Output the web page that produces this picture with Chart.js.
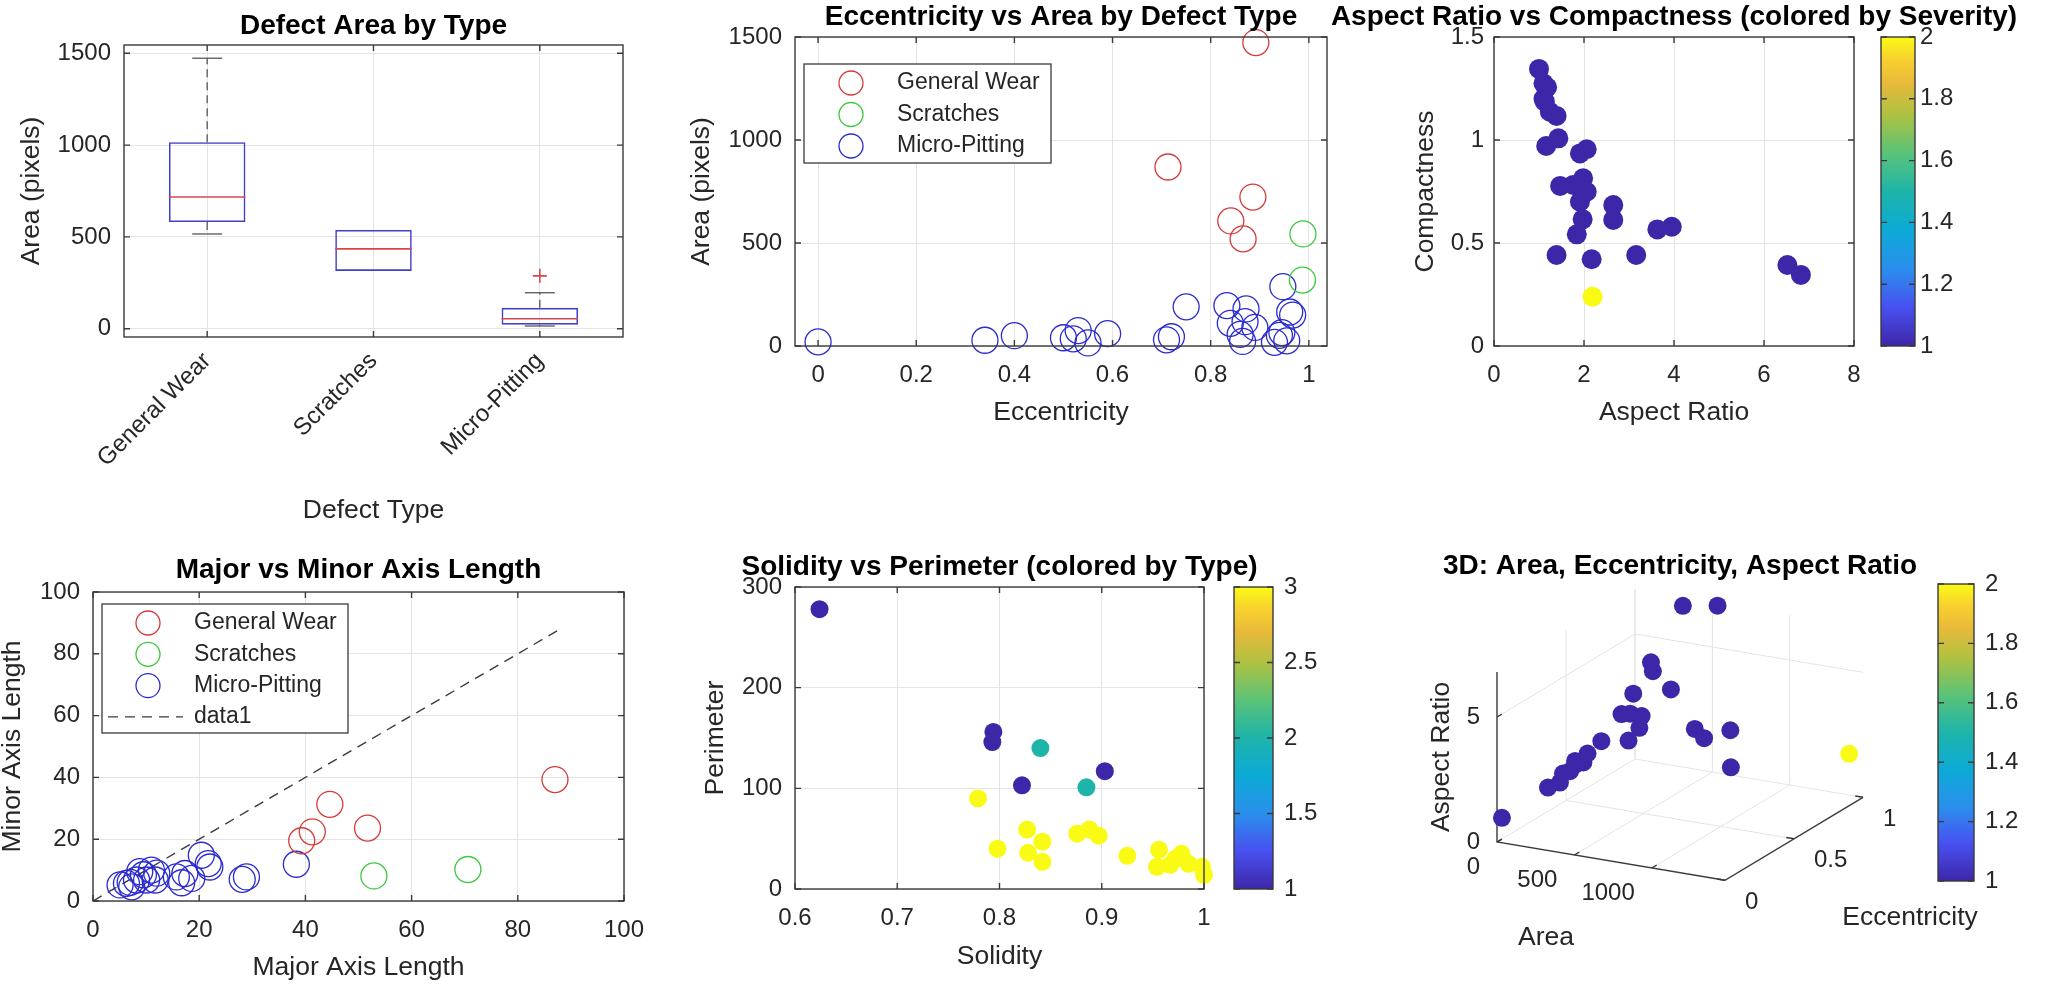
<!DOCTYPE html>
<html>
<head>
<meta charset="utf-8">
<script src="https://cdn.jsdelivr.net/npm/chart.js@4.4.1/dist/chart.umd.min.js"></script>
<style>
  html, body { margin: 0; padding: 0; background: #fff; }
  #fig { position: relative; width: 2055px; height: 987px; overflow: hidden; }
  #fig canvas { position: absolute; left: 0; top: 0; }
</style>
</head>
<body>
<div id="fig">
  <canvas id="c1" width="2055" height="987"></canvas>
  <canvas id="c2" width="2055" height="987"></canvas>
  <canvas id="c3" width="2055" height="987"></canvas>
  <canvas id="c3b" width="2055" height="987"></canvas>
  <canvas id="c4" width="2055" height="987"></canvas>
  <canvas id="c5" width="2055" height="987"></canvas>
  <canvas id="c5b" width="2055" height="987"></canvas>
  <canvas id="c6" width="2055" height="987"></canvas>
  <canvas id="c6b" width="2055" height="987"></canvas>
</div>
<script>
// ---- data ----

// box plot: area by type
const types = ["General Wear", "Scratches", "Micro-Pitting"];
const boxQ1 = [581, 315, 22];
const boxMed = [717, 435, 54];
const boxQ3 = [1016, 538, 114];
const whiskLo = [516, 315, 15];
const whiskHi = [1473, 538, 196];
const boxOutliers = [[], [], [288]];
const areaTicks = [0, 500, 1000, 1500];

// eccentricity vs area
const gwEcc = [0.892, 0.713, 0.886, 0.841, 0.866];
const gwArea = [1473, 869, 723, 607, 520];
const scEcc = [0.988, 0.987];
const scArea = [544, 320];
const mpEcc = [0.00, 0.34, 0.40, 0.50, 0.52, 0.53, 0.55, 0.59, 0.71, 0.72, 0.75, 0.833, 0.872,
  0.947, 0.961, 0.967, 0.84, 0.86, 0.87, 0.865, 0.89, 0.94, 0.945, 0.93, 0.955];
const mpArea = [20, 28, 50, 40, 35, 75, 15, 60, 30, 45, 190, 196, 180,
  288, 165, 150, 110, 56, 118, 22, 90, 52, 65, 18, 25];
const eccTicks = [0, 0.2, 0.4, 0.6, 0.8, 1];

// aspect ratio vs compactness
const aspect = [1.00, 1.10, 1.18, 1.10, 1.13, 1.24, 1.39, 1.16, 1.43, 1.91, 2.06, 1.47, 1.76, 1.98,
  2.06, 1.91, 1.97, 1.84, 2.65, 2.65, 1.39, 2.17, 3.16, 3.63, 3.95, 6.52, 6.82, 2.19];
const compact = [1.345, 1.275, 1.256, 1.20, 1.186, 1.137, 1.117, 0.971, 1.008, 0.935, 0.955, 0.777, 0.782, 0.814,
  0.749, 0.70, 0.615, 0.542, 0.684, 0.612, 0.442, 0.421, 0.442, 0.566, 0.579, 0.393, 0.345, 0.239];
const severity = [1, 1, 1, 1, 1, 1, 1, 1, 1, 1, 1, 1, 1, 1,
  1, 1, 1, 1, 1, 1, 1, 1, 1, 1, 1, 1, 1, 2];
const aspectTicks = [0, 2, 4, 6, 8];
const compactTicks = [0, 0.5, 1, 1.5];
const sevTicks = [1, 1.2, 1.4, 1.6, 1.8, 2];

// major vs minor axis
const gwMajor = [44.6, 41.3, 39.3, 51.7, 87.0];
const gwMinor = [31.3, 22.4, 19.5, 23.6, 39.3];
const scMajor = [52.9, 70.6];
const scMinor = [8.1, 10.2];
const mpMajor = [38.3, 28.1, 28.9, 20.4, 21.7, 22.0, 17.3, 15.7, 16.7, 18.6, 11.7,
  11.0, 8.8, 8.2, 6.3, 5.1, 7.3, 10.1, 9.5, 12.0, 7.0];
const mpMinor = [11.9, 7.0, 7.8, 14.8, 12.1, 11.0, 8.9, 7.8, 5.9, 7.3, 6.8,
  10.0, 9.5, 6.8, 5.7, 5.2, 4.6, 6.8, 8.5, 9.0, 6.0];
const refLine = [0, 87.5];
const axisTicks = [0, 20, 40, 60, 80, 100];

// solidity vs perimeter
const solidity = [0.624, 0.794, 0.793, 0.822, 0.903, 0.840, 0.885,
  0.779, 0.827, 0.798, 0.828, 0.842, 0.842, 0.876, 0.888, 0.897, 0.925, 0.956,
  0.954, 0.967, 0.978, 0.985, 0.998, 1.000, 0.972];
const perimeter = [278, 156, 146, 103, 117, 140, 101,
  90, 59, 40, 36, 47, 27, 55, 59, 53, 33, 39,
  22, 24, 35, 25, 22, 14, 30];
const typeIdx = [1, 1, 1, 1, 1, 2, 2,
  3, 3, 3, 3, 3, 3, 3, 3, 3, 3, 3,
  3, 3, 3, 3, 3, 3, 3];
const solTicks = [0.6, 0.7, 0.8, 0.9, 1];
const perTicks = [0, 100, 200, 300];
const typeTicks = [1, 1.5, 2, 2.5, 3];

// 3D: area, eccentricity, aspect ratio
const d3Area = [32, 35, 50, 26, 40, 25, 50, 50, 50, 50, 190, 100, 120, 150, 180, 60, 130,
  151, 290, 520, 607, 723, 869, 1473, 320, 544];
const d3Ecc = [0, 0.33, 0.40, 0.50, 0.52, 0.45, 0.51, 0.57, 0.60, 0.70, 0.74, 0.79, 0.83, 0.88, 0.83, 0.92, 0.97,
  0.96, 0.935, 0.85, 0.82, 0.88, 0.72, 0.90, 0.988, 0.988];
const d3Aspect = [1.00, 1.12, 1.10, 1.20, 1.40, 1.27, 1.60, 1.34, 1.60, 1.76, 1.80, 2.60, 2.50, 2.27, 2.00, 2.94, 4.10,
  3.80, 3.30, 2.24, 2.06, 2.30, 1.50, 2.07, 6.50, 6.74];
const d3Sev = [1, 1, 1, 1, 1, 1, 1, 1, 1, 1, 1, 1, 1, 1, 1, 1, 1,
  1, 1, 1, 1, 1, 1, 2, 1, 1];
const d3AreaTicks = [0, 500, 1000];
const d3EccTicks = [0, 0.5, 1];
const d3AspectTicks = [0, 5];

// ---- look ----
const W = 2055, H = 987;
const FONT = "'Liberation Sans', Arial, Helvetica, sans-serif";
const INK = "#262626";
const FRAME = "#3a3a3a";
const GRID = "#e4e4e4";
const RED = "#d63a3a";
const GREEN = "#3cc83c";
const BLUE = "#2b2bd0";
const PARULA = [[0, "#3e26a8"], [0.125, "#4850f0"], [0.25, "#2a8fec"], [0.375, "#0caad6"],
  [0.5, "#1eb4aa"], [0.625, "#5ac378"], [0.75, "#afc141"], [0.85, "#e8b93a"],
  [0.93, "#f8d22e"], [1, "#f9fb15"]];

Chart.defaults.font.family = FONT;
Chart.defaults.color = INK;
Chart.defaults.animation = false;
Chart.defaults.plugins.legend.display = false;
Chart.defaults.plugins.tooltip.enabled = false;

function hexRgb(h) {
  return [1, 3, 5].map(function (i) { return parseInt(h.slice(i, i + 2), 16); });
}
function parula(t) {
  t = Math.max(0, Math.min(1, t));
  for (let i = 1; i < PARULA.length; i++) {
    if (t <= PARULA[i][0]) {
      const t0 = PARULA[i - 1][0], f = (t - t0) / (PARULA[i][0] - t0);
      const a = hexRgb(PARULA[i - 1][1]), b = hexRgb(PARULA[i][1]);
      return "rgb(" + a.map(function (v, k) { return Math.round(v + (b[k] - v) * f); }).join(",") + ")";
    }
  }
  return PARULA[PARULA.length - 1][1];
}

// padding so that the chart area lands on the given box of the page
function pad(l, t, r, b, yW, xH, yRight) {
  return { left: l - (yRight ? 0 : yW), top: t, right: W - r - (yRight ? yW : 0), bottom: H - b - xH };
}
function fixSize(size) {
  return function (s) {
    if (s.isHorizontal()) s.height = size; else s.width = size;
    s.paddingLeft = s.paddingRight = s.paddingTop = s.paddingBottom = 0;
  };
}
function linAxis(min, max, ticks, size, title, tickPad) {
  return {
    type: "linear", min: min, max: max,
    afterBuildTicks: function (s) { s.ticks = ticks.map(function (v) { return { value: v }; }); },
    afterFit: fixSize(size),
    grid: { color: GRID, lineWidth: 1, drawTicks: false },
    border: { display: false },
    ticks: { font: { size: 24 }, padding: tickPad, color: INK, callback: function (v) { return String(v); } },
    title: { display: !!title, text: title || "", font: { size: 26.5 }, padding: 0, color: INK }
  };
}
function pts(xs, ys) {
  return xs.map(function (x, i) { return { x: x, y: ys[i] }; });
}
function circleSet(label, xs, ys, color) {
  return {
    label: label, data: pts(xs, ys), pointStyle: "circle", pointRadius: 13,
    pointBorderWidth: 1.3, pointBorderColor: color, pointBackgroundColor: "rgba(0,0,0,0)",
    borderColor: color, clip: false
  };
}
function dotSet(xs, ys, vals, vmin, vmax, r) {
  return {
    data: pts(xs, ys), pointRadius: r, pointBorderWidth: 0,
    pointBackgroundColor: vals.map(function (v) { return parula((v - vmin) / (vmax - vmin)); }),
    clip: false
  };
}

// frame, inward ticks, title, legend
const figPlugin = {
  id: "fig",
  afterDraw: function (chart, args, o) {
    const ctx = chart.ctx, a = chart.chartArea;
    ctx.save();
    if (o.box) {
      ctx.strokeStyle = FRAME;
      ctx.lineWidth = 1.4;
      Object.values(chart.scales).forEach(function (s) {
        if (!s.options.display) return;
        ctx.beginPath();
        s.ticks.forEach(function (t, i) {
          const p = s.getPixelForTick(i);
          if (s.isHorizontal()) {
            ctx.moveTo(p, a.bottom); ctx.lineTo(p, a.bottom - 6);
            ctx.moveTo(p, a.top); ctx.lineTo(p, a.top + 6);
          } else {
            ctx.moveTo(a.left, p); ctx.lineTo(a.left + 6, p);
            ctx.moveTo(a.right, p); ctx.lineTo(a.right - 6, p);
          }
        });
        ctx.stroke();
      });
      ctx.strokeRect(a.left, a.top, a.right - a.left, a.bottom - a.top);
    }
    if (o.legend) {
      const L = o.legend;
      ctx.fillStyle = "#fff";
      ctx.fillRect(L.x0, L.y0, L.x1 - L.x0, L.y1 - L.y0);
      ctx.strokeStyle = FRAME;
      ctx.lineWidth = 1.3;
      ctx.strokeRect(L.x0, L.y0, L.x1 - L.x0, L.y1 - L.y0);
      ctx.font = "23px " + FONT;
      ctx.textAlign = "left";
      ctx.textBaseline = "middle";
      chart.data.datasets.forEach(function (ds, i) {
        const y = L.y0 + L.first + i * L.step;
        ctx.strokeStyle = ds.borderColor;
        if (ds.showLine) {
          ctx.lineWidth = ds.borderWidth;
          ctx.setLineDash(ds.borderDash || []);
          ctx.beginPath(); ctx.moveTo(L.lineX0, y); ctx.lineTo(L.lineX1, y); ctx.stroke();
          ctx.setLineDash([]);
        } else {
          ctx.lineWidth = ds.pointBorderWidth;
          ctx.beginPath(); ctx.arc(L.markX, y, 12, 0, Math.PI * 2); ctx.stroke();
        }
        ctx.fillStyle = INK;
        ctx.fillText(ds.label, L.textX, y);
      });
    }
    if (o.title) {
      ctx.font = "bold 28px " + FONT;
      ctx.fillStyle = "#000";
      ctx.textAlign = "center";
      ctx.textBaseline = "alphabetic";
      ctx.fillText(o.title, o.titleX || (a.left + a.right) / 2, o.titleY);
    }
    ctx.restore();
  }
};
Chart.register(figPlugin);

function colorbar(id, l, t, r, b, min, max, ticks, tickPad) {
  const axis = linAxis(min, max, ticks, 70, "", tickPad);
  axis.position = "right";
  axis.grid = { display: false, drawTicks: false };
  new Chart(document.getElementById(id), {
    type: "bar",
    data: {
      labels: [""],
      datasets: [{
        data: [[min, max]], borderWidth: 0, barPercentage: 1, categoryPercentage: 1,
        backgroundColor: function (c) {
          const area = c.chart.chartArea;
          if (!area) return "rgba(0,0,0,0)";
          const g = c.chart.ctx.createLinearGradient(0, area.bottom, 0, area.top);
          PARULA.forEach(function (s) { g.addColorStop(s[0], s[1]); });
          return g;
        }
      }]
    },
    options: {
      responsive: false,
      layout: { padding: pad(l, t, r, b, 70, 0, true) },
      scales: { x: { display: false }, y: axis },
      plugins: { fig: { box: true } }
    }
  });
}

// ---- 1: box plot ----
const boxExtras = {
  id: "boxExtras",
  afterDatasetsDraw: function (chart) {
    const ctx = chart.ctx, x = chart.scales.x, y = chart.scales.y;
    const band = x.getPixelForValue(1) - x.getPixelForValue(0);
    ctx.save();
    types.forEach(function (t, i) {
      const cx = x.getPixelForValue(i);
      const hb = band * 0.23, hc = band * 0.09;
      ctx.strokeStyle = "#555";
      ctx.lineWidth = 1.3;
      [[boxQ3[i], whiskHi[i]], [boxQ1[i], whiskLo[i]]].forEach(function (w) {
        if (w[0] === w[1]) return;
        ctx.setLineDash([8, 5]);
        ctx.beginPath(); ctx.moveTo(cx, y.getPixelForValue(w[0])); ctx.lineTo(cx, y.getPixelForValue(w[1])); ctx.stroke();
        ctx.setLineDash([]);
        ctx.beginPath(); ctx.moveTo(cx - hc, y.getPixelForValue(w[1])); ctx.lineTo(cx + hc, y.getPixelForValue(w[1])); ctx.stroke();
      });
      ctx.strokeStyle = "#d8464a";
      ctx.lineWidth = 1.6;
      const my = y.getPixelForValue(boxMed[i]);
      ctx.beginPath(); ctx.moveTo(cx - hb, my); ctx.lineTo(cx + hb, my); ctx.stroke();
      boxOutliers[i].forEach(function (v) {
        const oy = y.getPixelForValue(v);
        ctx.beginPath();
        ctx.moveTo(cx - 7, oy); ctx.lineTo(cx + 7, oy);
        ctx.moveTo(cx, oy - 7); ctx.lineTo(cx, oy + 7);
        ctx.stroke();
      });
    });
    ctx.restore();
  }
};

new Chart(document.getElementById("c1"), {
  type: "bar",
  data: {
    labels: types,
    datasets: [{
      data: boxQ1.map(function (q, i) { return [q, boxQ3[i]]; }),
      backgroundColor: "rgba(0,0,0,0)", borderColor: "#4040c8", borderWidth: 1.6,
      borderSkipped: false, barPercentage: 0.46, categoryPercentage: 1
    }]
  },
  options: {
    responsive: false,
    layout: { padding: pad(124, 45, 623, 337, 108, 190) },
    scales: {
      x: {
        type: "category", offset: true, afterFit: fixSize(190),
        grid: { color: GRID, drawTicks: false, offset: false },
        border: { display: false },
        ticks: { font: { size: 24 }, minRotation: 45, maxRotation: 45, padding: 10, color: INK },
        title: { display: true, text: "Defect Type", font: { size: 26.5 }, padding: 0, color: INK }
      },
      y: linAxis(-45, 1545, areaTicks, 108, "Area (pixels)", 13)
    },
    plugins: { fig: { box: true, title: "Defect Area by Type", titleY: 34 } }
  },
  plugins: [boxExtras]
});

// ---- 2: eccentricity vs area ----
new Chart(document.getElementById("c2"), {
  type: "scatter",
  data: {
    datasets: [
      circleSet("General Wear", gwEcc, gwArea, RED),
      circleSet("Scratches", scEcc, scArea, GREEN),
      circleSet("Micro-Pitting", mpEcc, mpArea, BLUE)
    ]
  },
  options: {
    responsive: false,
    layout: { padding: pad(795, 37, 1327, 346, 109, 83) },
    scales: {
      x: linAxis(-0.047, 1.037, eccTicks, 83, "Eccentricity", 15),
      y: linAxis(0, 1500, areaTicks, 109, "Area (pixels)", 13)
    },
    plugins: {
      fig: {
        box: true, title: "Eccentricity vs Area by Defect Type", titleY: 25,
        legend: { x0: 804, y0: 64, x1: 1051, y1: 163, first: 19, step: 31.5, markX: 851, textX: 897 }
      }
    }
  }
});

// ---- 3: aspect ratio vs compactness ----
new Chart(document.getElementById("c3"), {
  type: "scatter",
  data: { datasets: [dotSet(aspect, compact, severity, 1, 2, 10)] },
  options: {
    responsive: false,
    layout: { padding: pad(1494, 37, 1854, 346, 84, 83) },
    scales: {
      x: linAxis(0, 8, aspectTicks, 83, "Aspect Ratio", 15),
      y: linAxis(0, 1.5, compactTicks, 84, "Compactness", 10)
    },
    plugins: { fig: { box: true, title: "Aspect Ratio vs Compactness (colored by Severity)", titleY: 25 } }
  }
});
colorbar("c3b", 1881, 37, 1915, 346, 1, 2, sevTicks, 5);

// ---- 4: major vs minor axis ----
new Chart(document.getElementById("c4"), {
  type: "scatter",
  data: {
    datasets: [
      circleSet("General Wear", gwMajor, gwMinor, RED),
      circleSet("Scratches", scMajor, scMinor, GREEN),
      circleSet("Micro-Pitting", mpMajor, mpMinor, BLUE),
      {
        label: "data1", data: pts(refLine, refLine), showLine: true, pointRadius: 0,
        borderColor: "#3a3a3a", borderWidth: 1.4, borderDash: [10, 7]
      }
    ]
  },
  options: {
    responsive: false,
    layout: { padding: pad(93, 592, 624, 901, 96, 83) },
    scales: {
      x: linAxis(0, 100, axisTicks, 83, "Major Axis Length", 15),
      y: linAxis(0, 100, axisTicks, 96, "Minor Axis Length", 13)
    },
    plugins: {
      fig: {
        box: true, title: "Major vs Minor Axis Length", titleY: 578,
        legend: { x0: 102, y0: 604, x1: 348, y1: 733, first: 19, step: 31.3, markX: 148, textX: 194, lineX0: 108, lineX1: 183 }
      }
    }
  }
});

// ---- 5: solidity vs perimeter ----
new Chart(document.getElementById("c5"), {
  type: "scatter",
  data: { datasets: [dotSet(solidity, perimeter, typeIdx, 1, 3, 9)] },
  options: {
    responsive: false,
    layout: { padding: pad(795, 587, 1204, 889, 95, 84) },
    scales: {
      x: linAxis(0.6, 1, solTicks, 84, "Solidity", 15),
      y: linAxis(0, 300, perTicks, 95, "Perimeter", 13)
    },
    plugins: { fig: { box: true, title: "Solidity vs Perimeter (colored by Type)", titleY: 575 } }
  }
});
colorbar("c5b", 1234, 587, 1273, 889, 1, 3, typeTicks, 11);

// ---- 6: 3D scatter, fixed MATLAB-like view ----
const aMax = 1473, eMax = 1, zMax = 6.8;
const VIEW = { ax: 228, ay: 38.3, ex: 138, ey: -83, zy: -170 };   // projected axis vectors in px
function proj(a, e, z) {
  return {
    x: a / aMax * VIEW.ax + e / eMax * VIEW.ex,
    y: a / aMax * VIEW.ay + e / eMax * VIEW.ey + z / zMax * VIEW.zy
  };
}
function seg(p, q, color, w) {
  return { data: [p, q], showLine: true, pointRadius: 0, borderColor: color, borderWidth: w, clip: false };
}
const sets3d = [{
  data: d3Area.map(function (a, i) { return proj(a, d3Ecc[i], d3Aspect[i]); }),
  pointRadius: 9, pointBorderWidth: 0, clip: false,
  pointBackgroundColor: d3Sev.map(function (v) { return parula(v - 1); })
}];
// axes and tick marks
sets3d.push({
  data: [proj(0, 0, zMax), proj(0, 0, 0), proj(aMax, 0, 0), proj(aMax, eMax, 0)],
  showLine: true, pointRadius: 0, borderColor: FRAME, borderWidth: 1.4, clip: false
});
d3AreaTicks.forEach(function (a) { sets3d.push(seg(proj(a, 0, 0), proj(a, 0.035, 0), FRAME, 1.4)); });
d3EccTicks.forEach(function (e) { sets3d.push(seg(proj(aMax, e, 0), proj(aMax - 50, e, 0), FRAME, 1.4)); });
d3AspectTicks.forEach(function (z) { sets3d.push(seg(proj(0, 0, z), proj(0, 0.035, z), FRAME, 1.4)); });
// grid on floor and the two back walls
d3AreaTicks.forEach(function (a) {
  sets3d.push(seg(proj(a, 0, 0), proj(a, eMax, 0), GRID, 1));
  sets3d.push(seg(proj(a, eMax, 0), proj(a, eMax, zMax), GRID, 1));
});
d3EccTicks.forEach(function (e) {
  if (e > 0) {
    sets3d.push(seg(proj(0, e, 0), proj(aMax, e, 0), GRID, 1));
    sets3d.push(seg(proj(0, e, 0), proj(0, e, zMax), GRID, 1));
  }
});
d3AspectTicks.forEach(function (z) {
  if (z > 0) {
    sets3d.push(seg(proj(0, eMax, z), proj(aMax, eMax, z), GRID, 1));
    sets3d.push(seg(proj(0, 0, z), proj(0, eMax, z), GRID, 1));
  }
});

const labels3d = {
  id: "labels3d",
  afterDraw: function (chart) {
    const ctx = chart.ctx, sx = chart.scales.x, sy = chart.scales.y;
    function px(p) { return [sx.getPixelForValue(p.x), sy.getPixelForValue(p.y)]; }
    let q;
    ctx.save();
    ctx.fillStyle = INK;
    ctx.font = "24px " + FONT;
    ctx.textBaseline = "middle";
    ctx.textAlign = "right";
    d3AreaTicks.forEach(function (v) { q = px(proj(v, 0, 0)); ctx.fillText(String(v), q[0] - 17, q[1] + 25); });
    d3AspectTicks.forEach(function (v) { q = px(proj(0, 0, v)); ctx.fillText(String(v), q[0] - 17, q[1]); });
    ctx.textAlign = "left";
    d3EccTicks.forEach(function (v) { q = px(proj(aMax, v, 0)); ctx.fillText(String(v), q[0] + 20, q[1] + 22); });
    ctx.font = "26.5px " + FONT;
    ctx.textAlign = "center";
    q = px(proj(aMax / 2, 0, 0)); ctx.fillText("Area", q[0] - 65, q[1] + 77);
    q = px(proj(aMax, eMax / 2, 0)); ctx.fillText("Eccentricity", q[0] + 116, q[1] + 79);
    q = px(proj(0, 0, zMax / 2));
    ctx.translate(q[0] - 55, q[1]);
    ctx.rotate(-Math.PI / 2);
    ctx.fillText("Aspect Ratio", 0, 0);
    ctx.restore();
  }
};

// 1 scale unit = 1 px; projected origin sits at (1497, 842)
new Chart(document.getElementById("c6"), {
  type: "scatter",
  data: { datasets: sets3d },
  options: {
    responsive: false,
    layout: { padding: { left: 1497 - 60, top: 842 - 300, right: W - (1497 + 420), bottom: H - (842 + 120) } },
    scales: {
      x: { type: "linear", display: false, min: -60, max: 420 },
      y: { type: "linear", display: false, min: -300, max: 120, reverse: true }
    },
    plugins: { fig: { title: "3D: Area, Eccentricity, Aspect Ratio", titleX: 1680, titleY: 574 } }
  },
  plugins: [labels3d]
});
colorbar("c6b", 1938, 584, 1974, 881, 1, 2, sevTicks, 11);
</script>
</body>
</html>
